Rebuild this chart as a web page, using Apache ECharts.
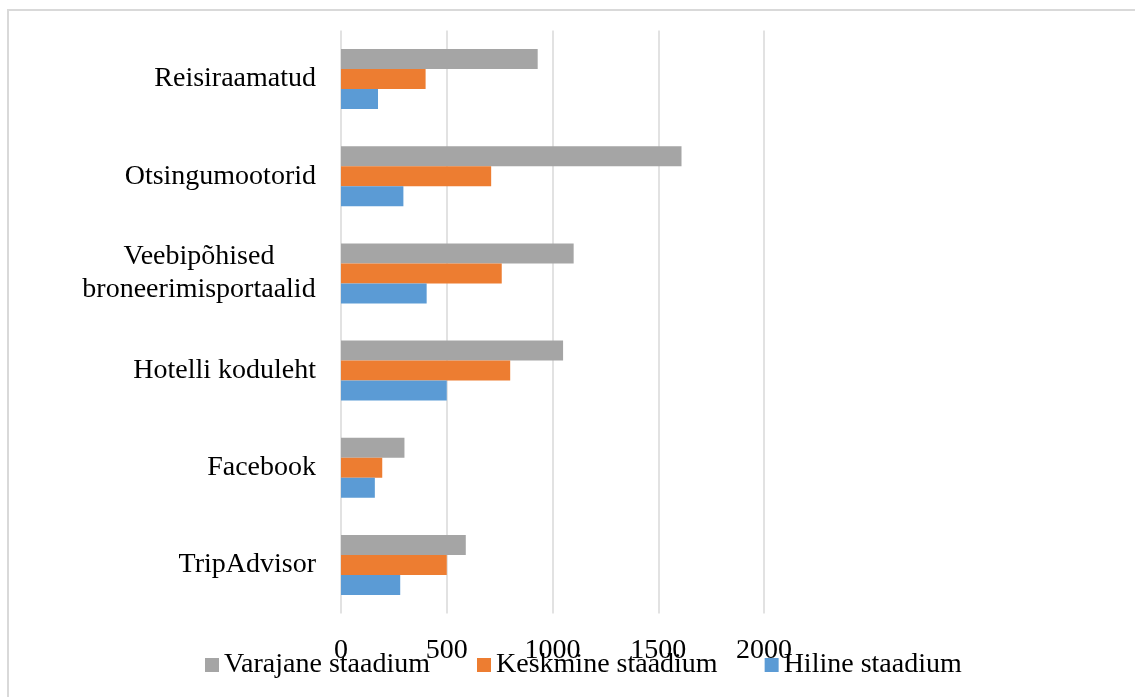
<!DOCTYPE html>
<html>
<head>
<meta charset="utf-8">
<script src="https://cdn.jsdelivr.net/npm/echarts@6/dist/echarts.min.js"></script>
<style>
  html, body { margin: 0; padding: 0; background: #fff; }
  #chart { width: 1135px; height: 697px; }
</style>
</head>
<body>
<div id="chart"></div>
<script>
// kategooriad alt üles
const categories = ['TripAdvisor', 'Facebook', 'Hotelli koduleht', 'Veebipõhised\nbroneerimisportaalid', 'Otsingumootorid', 'Reisiraamatud'];
const varajane = [590, 300, 1050, 1100, 1610, 930];
const keskmine = [500, 195, 800, 760, 710, 400];
const hiline = [280, 160, 500, 405, 295, 175];
const seriesNames = ['Varajane staadium', 'Keskmine staadium', 'Hiline staadium'];
const xTicks = [0, 500, 1000, 1500, 2000];

const font = "'Liberation Serif', 'Times New Roman', serif";
const mycharts = echarts.init(document.getElementById('chart'), null, { renderer: 'canvas' });

const option = {
  animation: false,
  graphic: [{
    type: 'rect',
    shape: { x: 8, y: 10, width: 1140, height: 700 },
    style: { fill: 'none', stroke: '#d9d9d9', lineWidth: 2 }
  }],
  grid: { left: 341, top: 30.5, width: 423, height: 583 },
  xAxis: {
    type: 'value',
    min: xTicks[0],
    max: xTicks[xTicks.length - 1],
    interval: 500,
    axisLine: { show: false },
    axisTick: { show: false },
    splitLine: { lineStyle: { color: '#d9d9d9', width: 1.5 } },
    axisLabel: { color: '#000', fontFamily: font, fontSize: 28, margin: 23, formatter: v => String(v) }
  },
  yAxis: {
    type: 'category',
    data: categories,
    axisLine: { show: false },
    axisTick: { show: false },
    axisLabel: {
      color: '#000',
      fontFamily: font,
      fontSize: 28,
      margin: 25,
      lineHeight: 33,
      formatter: function (v) {
        if (v.indexOf('\n') < 0) return v;
        return v.split('\n').map(s => '{c|' + s + '}').join('\n');
      },
      rich: {
        c: { width: 234, align: 'center', fontFamily: font, fontSize: 28, lineHeight: 33, color: '#000' }
      }
    }
  },
  legend: {
    data: seriesNames,
    left: 205,
    top: 651,
    padding: 0,
    icon: 'rect',
    itemWidth: 14,
    itemHeight: 14,
    itemGap: 47,
    textStyle: { color: '#000', fontFamily: font, fontSize: 28 }
  },
  series: [
    { name: seriesNames[0], type: 'bar', data: varajane, itemStyle: { color: '#A5A5A5' }, barGap: '0%', barCategoryGap: '38.3%' },
    { name: seriesNames[1], type: 'bar', data: keskmine, itemStyle: { color: '#ED7D31' } },
    { name: seriesNames[2], type: 'bar', data: hiline, itemStyle: { color: '#5B9BD5' } }
  ]
};
mycharts.setOption(option);
</script>
</body>
</html>
